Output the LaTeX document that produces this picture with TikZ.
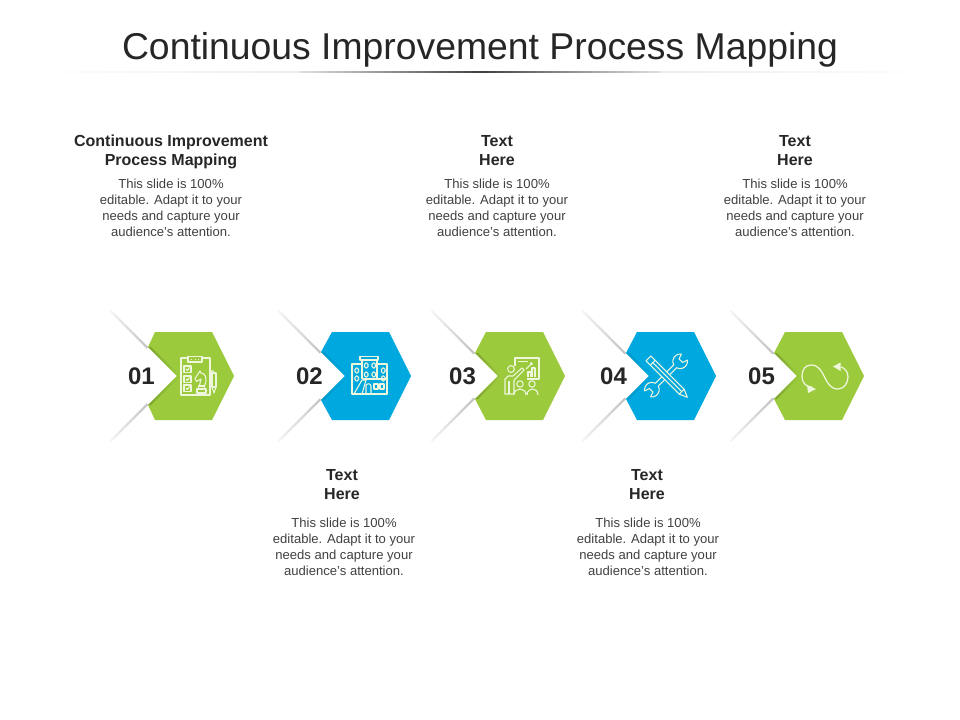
\documentclass[tikz,border=0pt]{standalone}
\usepackage{fontspec}
\setmainfont{Liberation Sans}
\definecolor{hexgreen}{HTML}{9BCB3C}
\definecolor{hexblue}{HTML}{00A8E0}
\definecolor{inkdark}{HTML}{262626}
\definecolor{inkbody}{HTML}{404040}
\definecolor{icongreen}{HTML}{EEF6DC}
\tikzset{
	titletext/.style={text=inkdark,font=\fontsize{28}{32}\selectfont,inner sep=0pt},
	headtext/.style={text=inkdark,align=center,inner sep=0pt,font=\fontsize{12}{14.25}\selectfont\bfseries},
	bodytext/.style={text=inkbody,align=center,inner sep=0pt,font=\fontsize{9.8}{12}\selectfont},
	numtext/.style={text=inkdark,inner sep=0pt,font=\fontsize{18}{20}\selectfont\bfseries},
	iconline/.style={draw=icongreen,line width=0.8pt,line join=round},
}
\begin{document}
\begin{tikzpicture}[x=0.75pt,y=-0.75pt]
	\useasboundingbox (0,0) rectangle (960,720);
	\node [titletext] (title) at (480,50) {Continuous Improvement Process Mapping};
	\shade [left color=white,right color=white,middle color=black!12] (30,71.6) rectangle (935,72.6);
	\shade [left color=black!12,right color=black!12,middle color=black!75] (300,71.6) rectangle (660,72.6);
	\foreach \t/\l/\d/\c/\s/\n in {177/155/29/hexgreen/80/1,345/332/24/hexblue/90/2,498/486/23/hexgreen/80/3,649/637/23/hexblue/90/4,797/785/23/hexgreen/80/5}{
		\fill [\c] (\l,332)--(\l+57,332)--(\l+79,376)--(\l+57,420)--(\l,420)--(\t-\d,376+\d)--(\t,376)--(\t-\d,376-\d)--cycle;
		\shade [left color=\c!\s!black,right color=\c] (\t-\d,376-\d)--(\t,376)--(\t-\d,376+\d)--(\t-\d+3,376+\d)--(\t+3,376)--(\t-\d+3,376-\d)--cycle;
		\shade [left color=black!4,right color=black!25] (\t-66,310)--(\t-\d,376-\d)--(\t-\d-1.5,376-\d+1.5)--(\t-67.5,311.5)--cycle;
		\shade [left color=black!4,right color=black!25] (\t-66,442)--(\t-\d,376+\d)--(\t-\d-1.5,376+\d-1.5)--(\t-67.5,440.5)--cycle;
		\node [numtext] (num\n) at (\t-35.5,376) {0\n};
	}
	\node [headtext] (headA) at (171,151.5) {Continuous Improvement\\Process Mapping};
	\node [bodytext] (bodyA) at (171,208) {This slide is 100\%\\editable. Adapt it to your\\needs and capture your\\audience's attention.};
	\node [headtext] (headB) at (342,484.5) {Text\\Here};
	\node [bodytext] (bodyB) at (344,547) {This slide is 100\%\\editable. Adapt it to your\\needs and capture your\\audience's attention.};
	\node [headtext] (headC) at (497,150.5) {Text\\Here};
	\node [bodytext] (bodyC) at (497,208) {This slide is 100\%\\editable. Adapt it to your\\needs and capture your\\audience's attention.};
	\node [headtext] (headD) at (647,484.5) {Text\\Here};
	\node [bodytext] (bodyD) at (648,547) {This slide is 100\%\\editable. Adapt it to your\\needs and capture your\\audience's attention.};
	\node [headtext] (headE) at (795,150.5) {Text\\Here};
	\node [bodytext] (bodyE) at (795,208) {This slide is 100\%\\editable. Adapt it to your\\needs and capture your\\audience's attention.};
	\draw [iconline] (188,358)--(181,358)--(181,395)--(210,395)--(210,358)--(202,358);
	\draw [iconline] (188,356.5) rectangle (202,362);
	\draw [iconline,dotted] (191,359.5)--(199,359.5);
	\foreach \y in {366,376,385}{
		\draw [iconline] (184,\y) rectangle (191,\y+6.5);
		\draw [iconline] (186,\y+3)--(187.5,\y+4.5)--(189.5,\y+1.5);
	}
	\draw [iconline] (197,393)--(197,389)--(206,389)--(206,393)--cycle (198.5,389)--(198.5,386)--(204.5,386)--(204.5,389);
	\draw [iconline] (199.5,386) .. controls (199.5,383) and (201,381) .. (201,379)--(196.5,381.5)--(195,378.5)--(198,374)--(200,371)--(201,373) .. controls (205,373) and (208,378) .. (204.5,386);
	\draw [iconline] (212,373) rectangle (216,387);
	\draw [iconline] (212,387)--(214,393)--(216,387) (211,375)--(211,371)--(214,371);
	\draw [iconline] (360,356.5) rectangle (378,360);
	\draw [iconline] (362,379)--(362,360) (377,360)--(377,379);
	\draw [iconline] (362,364)--(352,364)--(352,394)--(387,394)--(387,364)--(377,364);
	\draw [iconline] (363,379)--(387,379);
	\foreach \a/\b in {364.5/363,372/363,364.5/372,372/372,355/368,355/376,381.5/368,381.5/376}{
		\draw [iconline,rounded corners=1pt] (\a,\b) rectangle (\a+3.5,\b+5);
	}
	\draw [iconline] (354,394)--(362,380)--(366,380)--(362,394) (366,394)--(366,386) .. controls (366,383) and (371,383) .. (371,386)--(371,394);
	\draw [iconline] (374,384) rectangle (378,389) (380,384) rectangle (384,389);
	\draw [iconline] (515,366)--(515,358)--(539,358)--(539,379)--(527,379);
	\draw [iconline] (518,361.5)--(528,361.5);
	\draw [iconline] (511,369) circle [radius=3.4];
	\draw [iconline] (513,376)--(522,368)--(524,370)--(514,380)--(514,394)--(505,394)--(505,379)--(508,376)--cycle;
	\draw [iconline] (509,381)--(509,394);
	\draw [iconline] (528,377)--(528,372)--(531,372)--(531,377) (532,377)--(532,368)--(535,368)--(535,377);
	\draw [iconline] (526,369)--(532,363)--(530,363) (532,363)--(532,365);
	\draw [iconline] (520,384) circle [radius=3.2] (532,384) circle [radius=3.2];
	\draw [iconline] (514,395) .. controls (514,387) and (526,387) .. (526,395) (527,395) .. controls (527,387) and (538,387) .. (538,395);
	\begin{scope}[shift={(666,375.5)},rotate=45]
		\draw [iconline] (13,2) arc [start angle=164,end angle=35,radius=7.3]--(21,2.5)--(21,-2.5)--(26,-4.2) arc [start angle=-35,end angle=-164,radius=7.3]--(-13,-2) arc [start angle=-16,end angle=-145,radius=7.3]--(-21,-2.5)--(-21,2.5)--(-26,4.2) arc [start angle=145,end angle=16,radius=7.3]--cycle;
	\end{scope}
	\begin{scope}[shift={(667.5,377.5)},rotate=-45]
		\draw [iconline,fill=hexblue] (-27,-3.5)--(20,-3.5)--(28,0)--(20,3.5)--(-27,3.5)--cycle;
		\draw [iconline] (-21,-3.5)--(-21,3.5) (20,-3.5)--(20,3.5) (-21,0)--(20,0);
	\end{scope}
	\draw [iconline,line width=0.95pt] (812,387) .. controls (805,387) and (802,382) .. (802,376) .. controls (802,370) and (805,365) .. (811,365) .. controls (826,365) and (823,389) .. (838,389) .. controls (844,389) and (848,383) .. (848,377) .. controls (848,372) and (845,368) .. (841,367);
	\fill [icongreen] (807,385)--(816,389)--(808,393)--cycle;
	\fill [icongreen] (840.5,362.5)--(833,366.5)--(840.5,371)--cycle;
\end{tikzpicture}
\end{document}
